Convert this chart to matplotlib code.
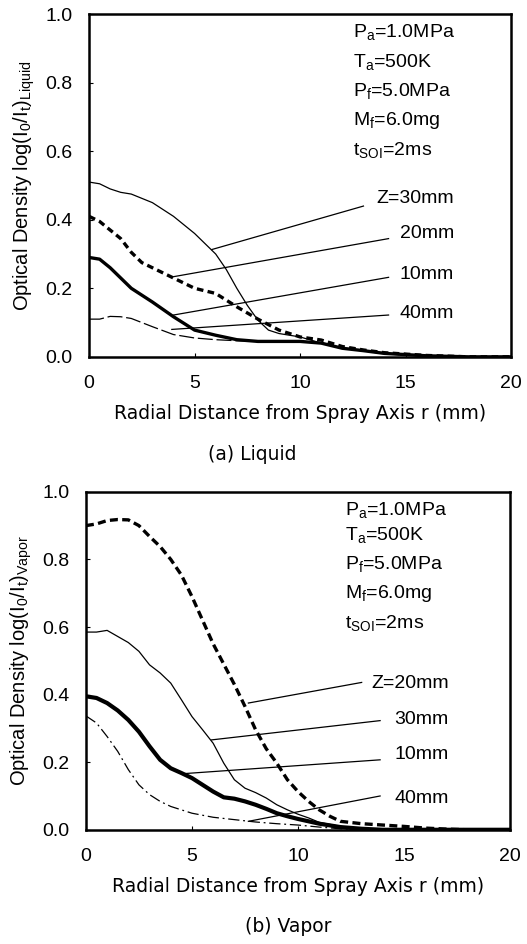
import matplotlib
matplotlib.use("Agg")
from matplotlib import pyplot as plt

plt.rcParams['font.family'] = ['Liberation Sans', 'DejaVu Sans']
plt.rcParams['mathtext.fontset'] = 'custom'
plt.rcParams['mathtext.rm'] = 'Liberation Sans'
plt.rcParams['mathtext.it'] = 'Liberation Sans:italic'
plt.rcParams['mathtext.default'] = 'regular'

# ---- (a) Liquid ----
liq_r30 = [0, 0.5, 1, 1.5, 2, 3, 4, 5, 5.5, 6, 6.5, 7, 7.5, 8, 8.5, 9, 10, 11, 12, 13, 14, 16, 18, 20]
liq_z30 = [0.51, 0.505, 0.49, 0.48, 0.475, 0.45, 0.41, 0.36, 0.33, 0.30, 0.255, 0.20, 0.15, 0.107, 0.078, 0.068, 0.058, 0.04, 0.025, 0.017, 0.01, 0.003, 0.0, 0.0]
liq_r20 = [0, 0.5, 1, 1.5, 2, 2.5, 3, 4, 5, 6, 7, 8, 9, 10, 11, 12, 13, 14, 16, 18, 20]
liq_z20 = [0.41, 0.395, 0.37, 0.345, 0.305, 0.275, 0.26, 0.23, 0.20, 0.185, 0.146, 0.11, 0.078, 0.058, 0.049, 0.03, 0.02, 0.012, 0.004, 0.0, 0.0]
liq_r10 = [0, 0.5, 1, 2, 3, 4, 5, 6, 7, 8, 10, 11, 12, 13, 14, 16, 18, 20]
liq_z10 = [0.29, 0.285, 0.26, 0.20, 0.16, 0.117, 0.078, 0.063, 0.05, 0.045, 0.045, 0.04, 0.025, 0.018, 0.01, 0.003, 0.0, 0.0]
liq_r40 = [0, 0.5, 1, 1.5, 2, 3, 4, 5, 6, 7, 8, 10]
liq_z40 = [0.11, 0.11, 0.118, 0.117, 0.112, 0.088, 0.065, 0.055, 0.05, 0.047, 0.045, 0.045]

liq_labels = ['Z=30mm', '20mm', '10mm', '40mm']
liq_label_y = [0.462, 0.36, 0.241, 0.126]
liq_lead_start = [(13.0, 0.44), (14.19, 0.345), (14.19, 0.232), (14.19, 0.122)]
liq_lead_end = [(5.81, 0.313), (3.92, 0.233), (4.0, 0.122), (3.92, 0.08)]

# ---- (b) Vapor ----
vap_r20 = [0, 0.5, 1, 1.5, 2, 2.5, 3, 3.5, 4, 4.5, 5, 5.5, 6, 6.5, 7, 7.5, 8, 8.5, 9, 9.5, 10, 10.5, 11, 11.5, 12, 13, 14, 15, 16, 17, 18, 20]
vap_z20 = [0.90, 0.905, 0.915, 0.918, 0.917, 0.90, 0.868, 0.838, 0.80, 0.754, 0.69, 0.62, 0.55, 0.49, 0.43, 0.365, 0.296, 0.24, 0.197, 0.148, 0.113, 0.084, 0.059, 0.04, 0.025, 0.018, 0.014, 0.01, 0.005, 0.002, 0.0, 0.0]
vap_r30 = [0, 0.5, 1, 1.5, 2, 2.5, 3, 3.5, 4, 4.5, 5, 5.5, 6, 6.5, 7, 7.5, 8, 8.5, 9, 9.5, 10, 10.5, 11, 12, 13, 14, 20]
vap_z30 = [0.585, 0.585, 0.59, 0.572, 0.554, 0.528, 0.488, 0.464, 0.434, 0.385, 0.335, 0.296, 0.256, 0.197, 0.148, 0.123, 0.11, 0.094, 0.074, 0.059, 0.046, 0.035, 0.022, 0.01, 0.004, 0.0, 0.0]
vap_r10 = [0, 0.5, 1, 1.5, 2, 2.5, 3, 3.5, 4, 4.5, 5, 5.5, 6, 6.5, 7, 7.5, 8, 8.5, 9, 9.5, 10, 11, 12, 13, 14, 20]
vap_z10 = [0.395, 0.39, 0.375, 0.353, 0.325, 0.29, 0.247, 0.207, 0.182, 0.168, 0.153, 0.133, 0.113, 0.096, 0.092, 0.084, 0.074, 0.062, 0.049, 0.04, 0.032, 0.018, 0.008, 0.003, 0.0, 0.0]
vap_r40 = [0, 0.5, 1, 1.5, 2, 2.5, 3, 3.5, 4, 5, 6, 7, 8, 9, 10, 11, 12, 13, 20]
vap_z40 = [0.337, 0.316, 0.276, 0.232, 0.178, 0.133, 0.104, 0.084, 0.069, 0.049, 0.037, 0.03, 0.023, 0.018, 0.014, 0.008, 0.003, 0.0, 0.0]

vap_labels = ['Z=20mm', '30mm', '10mm', '40mm']
vap_label_y = [0.434, 0.327, 0.222, 0.094]
vap_lead_start = [(13.0, 0.436), (13.87, 0.323), (13.87, 0.207), (13.87, 0.10)]
vap_lead_end = [(7.66, 0.375), (5.93, 0.266), (4.59, 0.166), (7.66, 0.025)]

params = ['P$_a$=1.0MPa', 'T$_a$=500K', 'P$_f$=5.0MPa', 'M$_f$=6.0mg', 't$_{SOI}$=2ms']
liq_param_y = [0.948, 0.859, 0.776, 0.69, 0.603]
vap_param_y = [0.945, 0.873, 0.787, 0.70, 0.611]

thin = 0.9
thick = 2.4


def setup_axes(ax, ylabel):
    ax.set_xlim(0, 20)
    ax.set_ylim(0, 1.0)
    ax.set_xticks([0, 5, 10, 15, 20])
    ax.set_yticks([0, 0.2, 0.4, 0.6, 0.8, 1.0])
    ax.set_yticklabels(['0.0', '0.2', '0.4', '0.6', '0.8', '1.0'])
    ax.tick_params(direction='in', length=3, width=0.8, labelsize=14)
    ax.tick_params(axis='y', pad=12)
    ax.tick_params(axis='x', pad=13)
    for s in ax.spines.values():
        s.set_linewidth(1.8)
    ax.set_ylabel(ylabel, fontsize=14.5, labelpad=6)
    ax.set_xlabel('Radial Distance from Spray Axis r (mm)', fontsize=13.5,
                  family='DejaVu Sans', labelpad=9)


def annotate(ax, labels, label_y, starts, ends, param_x, param_y, label_x):
    for lab, ly, s, e in zip(labels, label_y, starts, ends):
        ax.plot([s[0], e[0]], [s[1], e[1]], color='k', lw=0.9)
        ax.text(label_x, ly, lab, ha='right', va='center', fontsize=14)
    for p, py in zip(params, param_y):
        ax.text(param_x, py, p, ha='left', va='center', fontsize=14)


fig = plt.figure(figsize=(5.27, 9.44), dpi=100)

ax1 = fig.add_axes([0.169, 0.622, 0.801, 0.363])
ax1.plot(liq_r30, liq_z30, color='k', lw=thin)
ax1.plot(liq_r20, liq_z20, color='k', lw=thick, dashes=(2.0, 1.3))
ax1.plot(liq_r10, liq_z10, color='k', lw=thick)
ax1.plot(liq_r40, liq_z40, color='k', lw=thin, dashes=(12, 3))
setup_axes(ax1, 'Optical Density log(I$_0$/I$_t$)$_{Liquid}$')
annotate(ax1, liq_labels, liq_label_y, liq_lead_start, liq_lead_end, 12.5, liq_param_y, 17.3)

ax2 = fig.add_axes([0.163, 0.121, 0.805, 0.358])
ax2.plot(vap_r20, vap_z20, color='k', lw=thick, dashes=(2.4, 1.3))
ax2.plot(vap_r30, vap_z30, color='k', lw=thin)
ax2.plot(vap_r10, vap_z10, color='k', lw=thick + 0.6)
ax2.plot(vap_r40, vap_z40, color='k', lw=thin, dashes=(9, 3, 1.5, 3))
setup_axes(ax2, 'Optical Density log(I$_0$/I$_t$)$_{Vapor}$')
annotate(ax2, vap_labels, vap_label_y, vap_lead_start, vap_lead_end, 12.2, vap_param_y, 17.1)

fig.text(252 / 527, 1 - 455 / 944, '(a) Liquid', ha='center', va='center',
         fontsize=13.5, family='DejaVu Sans')
fig.text(288 / 527, 1 - 926 / 944, '(b) Vapor', ha='center', va='center',
         fontsize=13.5, family='DejaVu Sans')

fig.savefig('out.png', dpi=100)
